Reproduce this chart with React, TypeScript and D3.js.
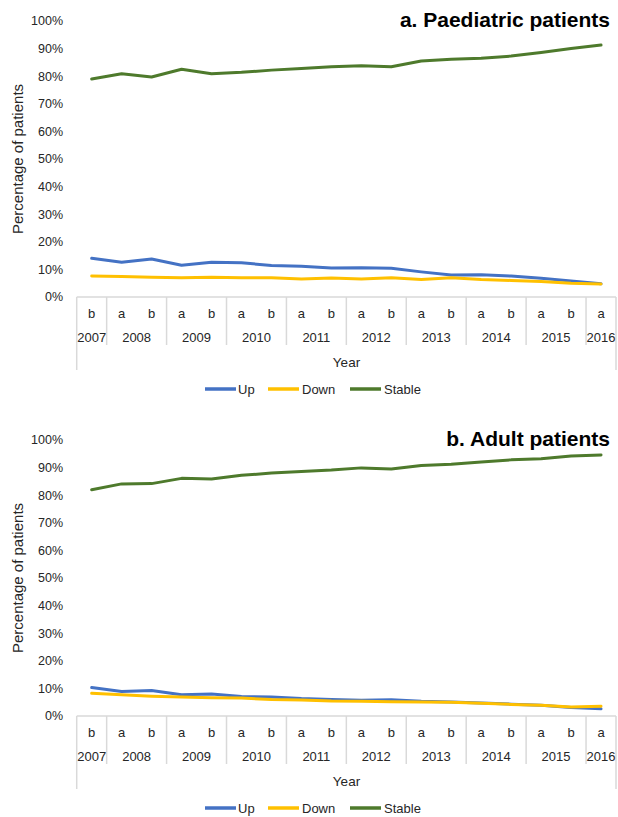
import React from "react";
import * as d3 from "d3";

const categories = [
  "2007 b", "2008 a", "2008 b", "2009 a", "2009 b", "2010 a", "2010 b",
  "2011 a", "2011 b", "2012 a", "2012 b", "2013 a", "2013 b", "2014 a",
  "2014 b", "2015 a", "2015 b", "2016 a",
];
const yTicks = [0, 10, 20, 30, 40, 50, 60, 70, 80, 90, 100];

const paedUp = [14.0, 12.6, 13.8, 11.5, 12.6, 12.4, 11.4, 11.1, 10.5, 10.6, 10.4, 9.1, 8.0, 8.1, 7.6, 6.8, 5.8, 4.8];
const paedDown = [7.6, 7.4, 7.2, 7.0, 7.2, 7.0, 7.0, 6.5, 6.9, 6.5, 7.0, 6.3, 7.0, 6.3, 6.0, 5.6, 5.0, 4.7];
const paedStable = [79.0, 80.9, 79.7, 82.5, 80.9, 81.4, 82.2, 82.8, 83.4, 83.8, 83.4, 85.5, 86.1, 86.5, 87.3, 88.6, 90.0, 91.3];

const adultUp = [10.3, 8.9, 9.2, 7.7, 8.0, 7.1, 6.9, 6.3, 6.0, 5.7, 5.9, 5.3, 5.1, 4.7, 4.3, 3.9, 3.1, 2.6];
const adultDown = [8.2, 7.7, 7.2, 6.9, 6.6, 6.5, 6.0, 5.8, 5.4, 5.3, 5.2, 5.1, 5.0, 4.6, 4.2, 3.9, 3.3, 3.5];
const adultStable = [82.0, 84.1, 84.2, 86.1, 85.9, 87.2, 88.0, 88.6, 89.1, 89.9, 89.5, 90.8, 91.2, 92.0, 92.8, 93.2, 94.2, 94.6];

const seriesNames = ["Up", "Down", "Stable"];
const seriesColors = ["#4472C4", "#FFC000", "#4E7A2C"];

const FONT = "'Liberation Sans', Arial, sans-serif";
const TXT = "#262626";
const AXIS = "#D9D9D9";

function Panel({ top, title, series }: { top: number; title: string; series: number[][] }) {
  const x0 = 76.7;
  const x1 = 616;
  const yBottom = top + 297;
  const yTop = top + 21;
  const x = d3.scaleBand<string>().domain(categories).range([x0, x1]);
  const y = d3.scaleLinear().domain([0, 100]).range([yBottom, yTop]);
  const bw = x.bandwidth();
  const cx = (c: string) => (x(c) as number) + bw / 2;

  // year groups
  const groups: { year: string; start: number; end: number }[] = [];
  categories.forEach((c) => {
    const yr = c.split(" ")[0];
    const xs = x(c) as number;
    const last = groups[groups.length - 1];
    if (last && last.year === yr) last.end = xs + bw;
    else groups.push({ year: yr, start: xs, end: xs + bw });
  });
  const boundaries = groups.slice(1).map((g) => g.start);

  const line = d3
    .line<number>()
    .x((_, i) => cx(categories[i]))
    .y((v) => y(v));

  const legendY = yBottom + 92;
  const legendItems = [
    { x: 205, tx: 238 },
    { x: 268, tx: 302 },
    { x: 350, tx: 384 },
  ];

  return (
    <g>
      <text x={610} y={top + 26.5} textAnchor="end" fontFamily={FONT} fontWeight="bold" fontSize={21} fill="#000">
        {title}
      </text>
      {yTicks.map((t) => (
        <text key={t} x={63} y={y(t)} dy="0.35em" textAnchor="end" fontFamily={FONT} fontSize={12.5} fill={TXT}>
          {t}%
        </text>
      ))}
      <text
        transform={`translate(23,${(yBottom + yTop) / 2}) rotate(-90)`}
        textAnchor="middle"
        fontFamily={FONT}
        fontSize={15}
        fill={TXT}
      >
        Percentage of patients
      </text>
      {/* axis */}
      <line x1={x0} x2={x1} y1={yBottom} y2={yBottom} stroke={AXIS} strokeWidth={1.5} />
      <line x1={x0} x2={x0} y1={yBottom} y2={yBottom + 73} stroke={AXIS} strokeWidth={1.5} />
      <line x1={x1} x2={x1} y1={yBottom} y2={yBottom + 73} stroke={AXIS} strokeWidth={1.5} />
      {boundaries.map((b, i) => (
        <line key={i} x1={b} x2={b} y1={yBottom} y2={yBottom + 48} stroke={AXIS} strokeWidth={1.5} />
      ))}
      {categories.map((c) => (
        <text key={c} x={cx(c)} y={yBottom + 16.5} dy="0.35em" textAnchor="middle" fontFamily={FONT} fontSize={13} fill={TXT}>
          {c.split(" ")[1]}
        </text>
      ))}
      {groups.map((g) => (
        <text key={g.year} x={(g.start + g.end) / 2} y={yBottom + 40.5} dy="0.35em" textAnchor="middle" fontFamily={FONT} fontSize={13} fill={TXT}>
          {g.year}
        </text>
      ))}
      <text x={346.5} y={yBottom + 65.5} dy="0.35em" textAnchor="middle" fontFamily={FONT} fontSize={13.5} fill={TXT}>
        Year
      </text>
      {series.map((s, i) => (
        <path key={i} d={line(s) || ""} fill="none" stroke={seriesColors[i]} strokeWidth={3} strokeLinejoin="round" strokeLinecap="round" />
      ))}
      {seriesNames.map((n, i) => (
        <g key={n}>
          <line x1={legendItems[i].x} x2={legendItems[i].x + 31} y1={legendY} y2={legendY} stroke={seriesColors[i]} strokeWidth={3.5} />
          <text x={legendItems[i].tx} y={legendY} dy="0.35em" fontFamily={FONT} fontSize={13} fill={TXT}>
            {n}
          </text>
        </g>
      ))}
    </g>
  );
}

export default function App() {
  return (
    <svg
      width={618}
      height={817}
      viewBox="0 0 618 817"
      style={{ position: "absolute", left: 0, top: 0, background: "#fff" }}
    >
      <rect width={618} height={817} fill="#fff" />
      <Panel top={0} title="a. Paediatric patients" series={[paedUp, paedDown, paedStable]} />
      <Panel top={419} title="b. Adult patients" series={[adultUp, adultDown, adultStable]} />
    </svg>
  );
}
